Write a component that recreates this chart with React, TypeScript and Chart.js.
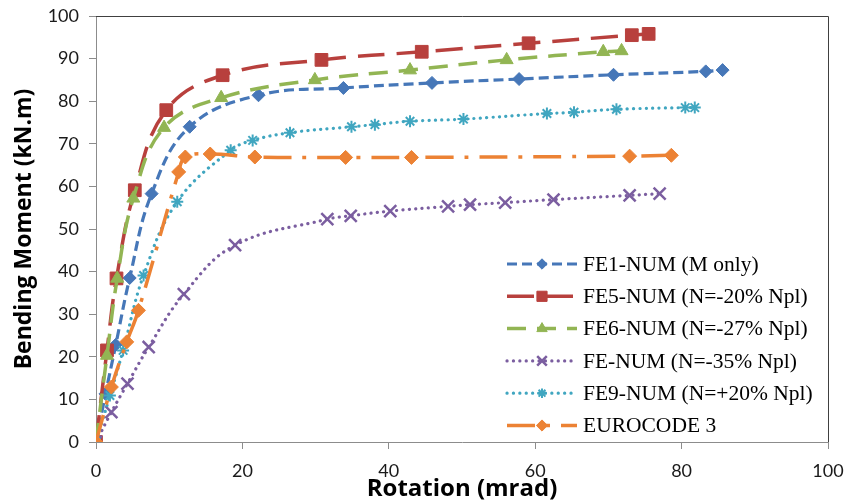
import React, { useEffect, useRef } from 'react';
import { Chart, registerables } from 'chart.js';
import { drawPoint } from 'chart.js/helpers';

Chart.register(...registerables);

// ---- data ----
const seriesLabels = [
  'FE1-NUM (M only)',
  'FE5-NUM (N=-20% Npl)',
  'FE6-NUM (N=-27% Npl)',
  'FE-NUM (N=-35% Npl)',
  'FE9-NUM (N=+20% Npl)',
  'EUROCODE 3',
];

const fe1X = [0, 1.3, 2.7, 4.6, 7.6, 12.8, 22.2, 33.8, 45.9, 57.8, 70.7, 83.3, 85.6];
const fe1Y = [0, 11.3, 22.8, 38.5, 58.3, 74.0, 81.4, 83.1, 84.3, 85.2, 86.2, 87.0, 87.3];

const fe5X = [0, 1.5, 2.8, 5.3, 9.6, 17.3, 30.8, 44.5, 59.1, 73.2, 75.5];
const fe5Y = [0, 21.5, 38.4, 59.1, 77.9, 86.1, 89.7, 91.6, 93.6, 95.5, 95.8];

const fe6X = [0, 1.5, 2.9, 5.1, 9.3, 17.1, 29.9, 42.9, 56.1, 69.3, 71.8];
const fe6Y = [0, 20.3, 38.4, 57.2, 73.8, 80.8, 85.0, 87.3, 89.7, 91.6, 91.8];

const fe35X = [0, 2.1, 4.3, 7.2, 12.0, 19.0, 31.6, 34.8, 40.2, 48.1, 51.1, 55.9, 62.5, 72.9, 77.0];
const fe35Y = [0, 7.0, 13.7, 22.3, 34.7, 46.2, 52.3, 53.1, 54.2, 55.3, 55.7, 56.2, 56.9, 57.9, 58.3];

const fe9X = [0, 1.9, 3.7, 6.5, 11.1, 18.4, 21.4, 26.5, 34.9, 38.1, 42.9, 50.2, 61.6, 65.3, 71.1, 80.5, 81.8];
const fe9Y = [0, 10.9, 21.5, 39.1, 56.4, 68.5, 70.8, 72.6, 74.0, 74.5, 75.3, 75.8, 77.1, 77.4, 78.1, 78.5, 78.5];

const ec3X = [0, 2.1, 4.2, 5.8, 11.3, 12.2, 15.6, 21.7, 34.1, 43.1, 72.9, 78.6];
const ec3Y = [0, 12.9, 23.5, 30.9, 63.4, 66.9, 67.6, 66.9, 66.8, 66.8, 67.1, 67.3];

const xTicks = [0, 20, 40, 60, 80, 100];
const yTicks = [0, 10, 20, 30, 40, 50, 60, 70, 80, 90, 100];

const xTitle = 'Rotation (mrad)';
const yTitle = 'Bending Moment (kN.m)';

// ---- styles ----
const colors = ['#4677B8', '#B8403D', '#92B553', '#7B5EA0', '#40A6C0', '#EC8234'];
const dashes = [[10, 5], [27, 12], [19, 11], [0.1, 6.3], [0.1, 6.3], [28, 11, 4, 11]];
const caps = ['butt', 'butt', 'butt', 'round', 'round', 'butt'];
const widths = [3.2, 3.5, 3.5, 3.2, 3.2, 3.5];
const markers = ['rectRot', 'rect', 'triangle', 'crossRot', 'star', 'rectRot'];
const markerRadius = [6.5, 9, 7.5, 8.5, 6, 7];
const markerBorder = [1, 1, 1, 2.5, 2, 1];

const toPts = (xs: number[], ys: number[]) => xs.map((x, i) => ({ x, y: ys[i] }));
const seriesData = [
  toPts(fe1X, fe1Y),
  toPts(fe5X, fe5Y),
  toPts(fe6X, fe6Y),
  toPts(fe35X, fe35Y),
  toPts(fe9X, fe9Y),
  toPts(ec3X, ec3Y),
];

const frameAndLegend = {
  id: 'frameAndLegend',
  afterDraw(chart: any) {
    const { ctx, chartArea } = chart;
    ctx.save();
    // plot area frame (top / right)
    ctx.strokeStyle = '#404040';
    ctx.lineWidth = 1;
    ctx.beginPath();
    ctx.moveTo(chartArea.left, chartArea.top + 0.5);
    ctx.lineTo(chartArea.right + 0.5, chartArea.top + 0.5);
    ctx.lineTo(chartArea.right + 0.5, chartArea.bottom);
    ctx.stroke();

    // legend inside plot area
    const lx0 = chartArea.right - 321;
    const lx1 = chartArea.right - 251;
    const tx = chartArea.right - 245;
    const y0 = chartArea.top + 248;
    const step = 32.3;
    chart.data.datasets.forEach((ds: any, i: number) => {
      const y = y0 + i * step;
      ctx.save();
      ctx.strokeStyle = ds.borderColor;
      ctx.lineWidth = ds.borderWidth;
      ctx.lineCap = ds.borderCapStyle;
      ctx.setLineDash(ds.borderDash);
      ctx.beginPath();
      ctx.moveTo(lx0, y);
      ctx.lineTo(lx1, y);
      ctx.stroke();
      ctx.setLineDash([]);
      ctx.lineCap = 'butt';
      ctx.fillStyle = ds.pointBackgroundColor;
      ctx.strokeStyle = ds.pointBorderColor;
      ctx.lineWidth = ds.pointBorderWidth;
      drawPoint(
        ctx,
        { pointStyle: ds.pointStyle, radius: ds.pointRadius * 0.8, borderWidth: ds.pointBorderWidth, rotation: 0 },
        (lx0 + lx1) / 2,
        y
      );
      ctx.fillStyle = '#000';
      ctx.font = '21.5px "Liberation Serif", "Times New Roman", serif';
      ctx.textBaseline = 'middle';
      ctx.textAlign = 'left';
      ctx.fillText(ds.label, tx, y + 1);
      ctx.restore();
    });
    ctx.restore();
  },
};

export default function App() {
  const ref = useRef<HTMLCanvasElement | null>(null);

  useEffect(() => {
    document.body.style.margin = '0';
    const canvas = ref.current;
    if (!canvas) return;
    const datasets = seriesLabels.map((label, i) => ({
      label,
      data: seriesData[i],
      showLine: true,
      tension: 0.4,
      borderColor: colors[i],
      backgroundColor: colors[i],
      borderWidth: widths[i],
      borderDash: dashes[i],
      borderCapStyle: caps[i],
      pointStyle: markers[i],
      pointRadius: markerRadius[i],
      pointHoverRadius: markerRadius[i],
      pointBackgroundColor: colors[i],
      pointBorderColor: colors[i],
      pointBorderWidth: markerBorder[i],
      order: 5 - i,
    }));

    const tickFont = { family: 'Lato', size: 18 };

    const chart = new Chart(canvas, {
      type: 'scatter',
      data: { datasets },
      plugins: [frameAndLegend],
      options: {
        animation: false,
        responsive: true,
        maintainAspectRatio: false,
        devicePixelRatio: 1,
        layout: { padding: { top: 16, right: 19, left: 0, bottom: 0 } },
        plugins: { legend: { display: false }, tooltip: { enabled: false } },
        scales: {
          x: {
            type: 'linear',
            min: 0,
            max: 100,
            afterBuildTicks: (s: any) => {
              s.ticks = xTicks.map((v) => ({ value: v }));
            },
            afterFit: (s: any) => {
              s.height = 61;
              s.paddingLeft = 0;
              s.paddingRight = 0;
            },
            ticks: { font: tickFont, color: '#1a1a1a', padding: 11, maxRotation: 0 },
            grid: { display: true, drawOnChartArea: false, drawTicks: true, tickLength: 7, color: '#8c8c8c' },
            border: { display: true, color: '#8c8c8c', width: 1 },
            title: {
              display: true,
              text: xTitle,
              font: { family: 'Open Sans', size: 24, weight: 'bold', lineHeight: 1 },
              color: '#000',
              padding: { top: 0, bottom: 2 },
            },
          },
          y: {
            type: 'linear',
            min: 0,
            max: 100,
            afterBuildTicks: (s: any) => {
              s.ticks = yTicks.map((v) => ({ value: v }));
            },
            afterFit: (s: any) => {
              s.width = 96;
              s.paddingTop = 0;
              s.paddingBottom = 0;
            },
            ticks: { font: tickFont, color: '#1a1a1a', padding: 10 },
            grid: { display: true, drawOnChartArea: false, drawTicks: true, tickLength: 7, color: '#8c8c8c' },
            border: { display: true, color: '#8c8c8c', width: 1 },
            title: {
              display: true,
              text: yTitle,
              font: { family: 'Open Sans', size: 23, weight: 'bold', lineHeight: 1 },
              color: '#000',
              padding: { top: 13, bottom: 0 },
            },
          },
        },
      },
    });
    return () => chart.destroy();
  }, []);

  return (
    <div style={{ width: 847, height: 503, position: 'relative', background: '#fff' }}>
      <canvas ref={ref} />
    </div>
  );
}
